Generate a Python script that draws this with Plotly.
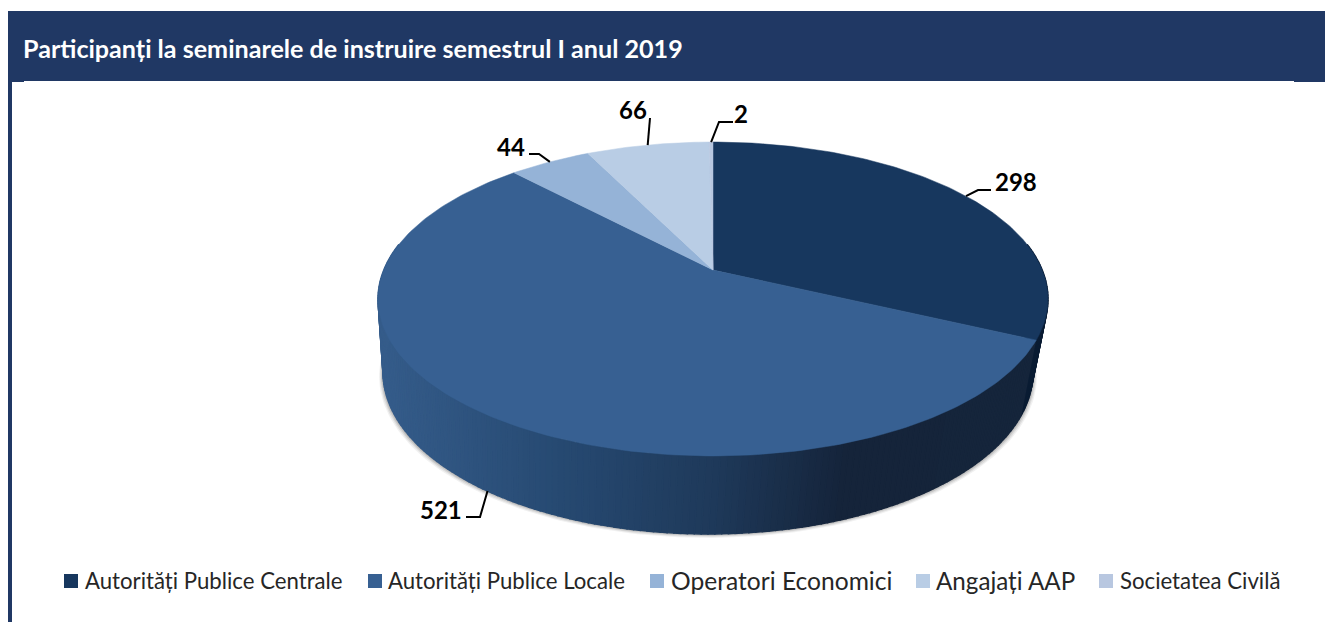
import numpy as np
import plotly.graph_objects as go

title = "Participanți la seminarele de instruire semestrul I anul 2019"
categories = ["Autorități Publice Centrale", "Autorități Publice Locale",
              "Operatori Economici", "Angajați AAP", "Societatea Civilă"]
values = [298, 521, 44, 66, 2]
colors = ["#17375e", "#376092", "#95b3d7", "#b9cde5", "#b8c7e0"]
side_first = "#0a1c33"

# legend layout (pixels)
legend_marker_x = [71, 375, 657, 923, 1106]
legend_text_x = [83, 386, 669, 934, 1118]
legend_font = [22.2, 22.2, 24.6, 24.2, 22.2]

# label layout: elbow and label position in pixels
elbows = [[(978, 190), (991, 190)], [(480, 517), (466, 517)], [(539, 154), (529, 154)],
          [(650, 118)], [(719, 122), (733, 122)]]
label_pos = [(1016, 181), (441, 509), (511, 146), (633, 109), (741, 113)]
label_on_bottom = [False, True, False, False, False]

# projection of the pie
XC, YC = 713.0, 270.0
K, A, B = 0.1847, 151.6, 329.2
BOTTOM_XC, SCALE_X, SCALE_Y, DROP = 708.0, 0.97, 1.03, 72.4
BAND = "#203864"


def top(theta):
    t = np.radians(theta)
    w = 1 + K * np.cos(t)
    return XC + B * np.sin(t) / w, YC - A * np.cos(t) / w


def bottom(theta):
    x, y = top(theta)
    return BOTTOM_XC + SCALE_X * (x - XC), YC + DROP + SCALE_Y * (y - YC)


def lerp_color(x):
    stops = [385, 560, 713, 850, 1040]
    rgb = np.array([[0x35, 0x5c, 0x8a], [0x27, 0x4a, 0x72], [0x1f, 0x3a, 0x5b],
                    [0x15, 0x24, 0x3a], [0x16, 0x26, 0x3c]])
    c = [int(np.interp(x, stops, rgb[:, i])) for i in range(3)]
    return f"rgb({c[0]},{c[1]},{c[2]})"


total = sum(values)
edges = np.concatenate([[0], np.cumsum(values) / total * 360])
fig = go.Figure()


def poly(xs, ys, color, lw=0.6):
    fig.add_trace(go.Scatter(x=xs, y=ys, mode="lines", fill="toself", fillcolor=color,
                             line=dict(color=color, width=lw), hoverinfo="skip", showlegend=False))


# soft shadow under the side wall
ring = np.linspace(60, 300, 200)
for off, alpha in [(4.0, 0.07), (3.0, 0.10), (2.0, 0.14), (1.0, 0.18)]:
    bx, by = bottom(ring)
    poly(BOTTOM_XC + (bx - BOTTOM_XC) * (1 + off / 325), by + off, f"rgba(60,60,60,{alpha})", 0)

# side wall
steps = np.arange(80, 280, 1.0)
for a in steps:
    seg = np.array([a, a + 1.0])
    tx, ty = top(seg)
    bx, by = bottom(seg)
    col = side_first if a < edges[1] else lerp_color(tx.mean())
    poly([tx[0], tx[1], bx[1], bx[0], tx[0]], [ty[0], ty[1], by[1], by[0], ty[0]], col, 1.5)

# top face
for i, (name, col) in enumerate(zip(categories, colors)):
    th = np.linspace(edges[i], edges[i + 1], max(3, int(values[i] / total * 360)))
    x, y = top(th)
    poly(np.r_[XC, x, XC], np.r_[YC, y, YC], col, 0.5)

# connectors and value labels
for i, v in enumerate(values):
    mid = (edges[i] + edges[i + 1]) / 2
    sx, sy = bottom(mid) if label_on_bottom[i] else top(mid)
    pts = [(sx, sy)] + elbows[i]
    fig.add_trace(go.Scatter(x=[p[0] for p in pts], y=[p[1] for p in pts], mode="lines",
                             line=dict(color="#000000", width=2), hoverinfo="skip", showlegend=False))
    fig.add_annotation(x=label_pos[i][0], y=label_pos[i][1], text=f"<b>{v}</b>", showarrow=False,
                       font=dict(family="Lato", size=24, color="#000000"))

# legend
for i, name in enumerate(categories):
    fig.add_trace(go.Scatter(x=[legend_marker_x[i]], y=[581], mode="markers",
                             marker=dict(symbol="square", size=14, color=colors[i]),
                             hoverinfo="skip", showlegend=False))
    fig.add_annotation(x=legend_text_x[i], y=580, text=name, showarrow=False, xanchor="left",
                       font=dict(family="Lato", size=legend_font[i], color="#262626"))

fig.add_annotation(x=21, y=48, text=f"<b>{title}</b>", showarrow=False, xanchor="left",
                   font=dict(family="Lato", size=25.1, color="#ffffff"))

rect = lambda x0, y0, x1, y1: dict(type="rect", xref="x", yref="y", x0=x0, y0=y0, x1=x1, y1=y1,
                                   fillcolor=BAND, line_width=0, layer="below")
fig.update_layout(
    width=1325, height=622, margin=dict(l=0, r=0, t=0, b=0),
    paper_bgcolor="white", plot_bgcolor="white", showlegend=False,
    xaxis=dict(range=[0, 1325], visible=False, fixedrange=True),
    yaxis=dict(range=[622, 0], visible=False, fixedrange=True),
    shapes=[rect(8, 11, 1325, 81), rect(8, 81, 12, 622), rect(8, 81, 24, 82), rect(1294, 81, 1325, 82)],
)
fig.write_html("out.html", config=dict(displayModeBar=False),
               post_script="document.body.style.margin='0';document.body.style.overflow='hidden';")
